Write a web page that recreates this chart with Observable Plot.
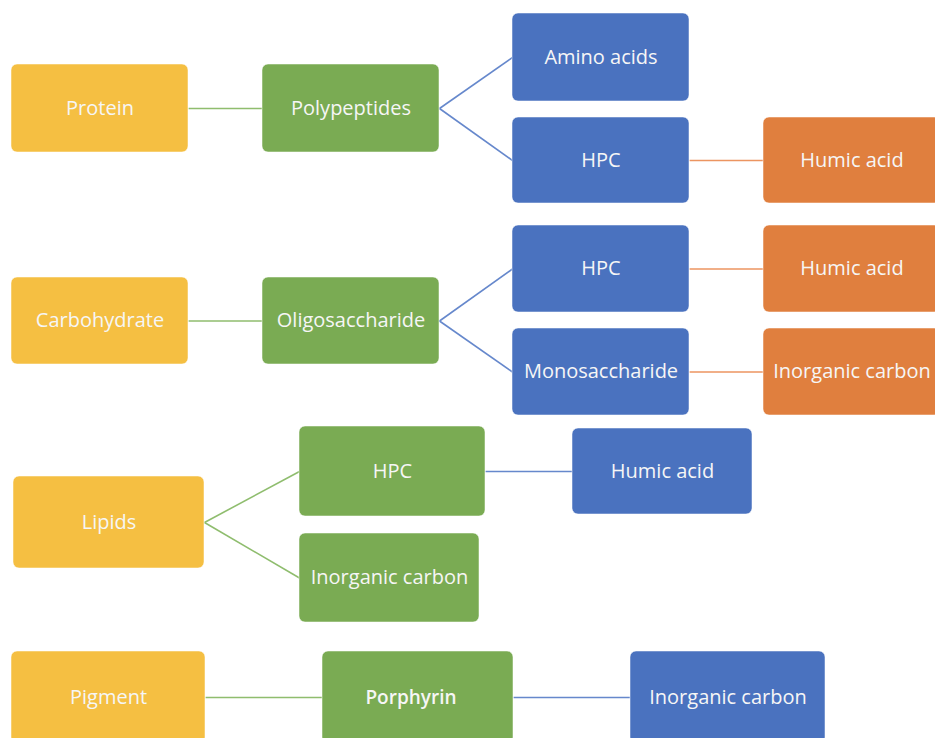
<!DOCTYPE html>
<html>
<head>
<meta charset="utf-8">
<script src="https://cdn.jsdelivr.net/npm/d3@7"></script>
<script src="https://cdn.jsdelivr.net/npm/@observablehq/plot@0.6"></script>
<style>
  html, body { margin: 0; padding: 0; background: #fff; overflow: hidden; }
</style>
</head>
<body>
<div id="chart"></div>
<script>
// Node labels, stage (colour group) and centre / size in diagram units
const labels = ["Protein","Polypeptides","Amino acids","HPC","Humic acid",
  "Carbohydrate","Oligosaccharide","HPC","Monosaccharide","Humic acid","Inorganic carbon",
  "Lipids","HPC","Inorganic carbon","Humic acid",
  "Pigment","Porphyrin","Inorganic carbon"];
const stages = ["source","step1","step2","step2","step3",
  "source","step1","step2","step2","step3","step3",
  "source","step1","step1","step2",
  "source","step1","step2"];
const centerX = [99.5,350.5,600.5,600.5,851.5, 99.5,350.5,600.5,600.5,851.5,851.5, 108.5,392,389,662, 108,417.5,727.5];
const centerY = [108,108,57,160,160, 320.5,320.5,268.5,371.5,268.5,371.5, 522,471,577.5,471, 697,697,697];
const boxW = [177,177,177,177,177, 177,177,177,177,177,177, 191,186,180,180, 194,191,195];
const boxH = [88,88,88,86,86, 87,87,87,87,87,87, 92,90,89,86, 92,92,92];
const bold = [0,0,0,0,0, 0,0,0,0,0,0, 0,0,0,0, 0,1,0];
// Edges: source index -> target index
const edgeFrom = [0,1,1,3, 5,6,6,7,8, 11,11,12, 15,16];
const edgeTo   = [1,2,3,4, 6,7,8,9,10, 12,13,14, 16,17];

const nodes = labels.map((label, i) => ({
  label, stage: stages[i], cx: centerX[i], cy: centerY[i], w: boxW[i], h: boxH[i], bold: bold[i]
}));
const edges = edgeFrom.map((s, i) => {
  const a = nodes[s], b = nodes[edgeTo[i]];
  return {x1: a.cx + a.w / 2, y1: a.cy, x2: b.cx - b.w / 2, y2: b.cy, stage: b.stage};
});

const stageDomain = ["source","step1","step2","step3"];
const stageColors = ["#F5BF42","#7AAB53","#4A72BF","#E07F3E"];
const lineColors  = ["#F5BF42","#8FBD6E","#6688CC","#EC9561"];
const lineScale = d3.scaleOrdinal(stageDomain, lineColors);

const chart = Plot.plot({
  width: 935,
  height: 738,
  margin: 0,
  x: {domain: [0, 935], range: [0, 935], axis: null},
  y: {domain: [0, 738], range: [0, 738], axis: null},
  color: {domain: stageDomain, range: stageColors},
  style: {fontFamily: "'Open Sans', sans-serif", background: "#fff"},
  marks: [
    Plot.link(edges, {
      x1: "x1", y1: "y1", x2: "x2", y2: "y2",
      stroke: d => lineScale(d.stage), strokeWidth: 1.6
    }),
    Plot.rect(nodes, {
      x1: d => d.cx - d.w / 2, x2: d => d.cx + d.w / 2,
      y1: d => d.cy - d.h / 2, y2: d => d.cy + d.h / 2,
      fill: "stage", rx: 6, stroke: "#ffffff", strokeOpacity: 0.5, strokeWidth: 1
    }),
    Plot.text(nodes.filter(d => !d.bold), {
      x: "cx", y: "cy", text: "label", fill: "#F6F6F6",
      fontSize: 20, textAnchor: "middle", lineAnchor: "middle"
    }),
    Plot.text(nodes.filter(d => d.bold), {
      x: "cx", y: "cy", text: "label", fill: "#F6F6F6",
      fontSize: 19, fontWeight: 600, textAnchor: "middle", lineAnchor: "middle", dx: -7
    })
  ]
});
document.getElementById("chart").appendChild(chart);
</script>
</body>
</html>
